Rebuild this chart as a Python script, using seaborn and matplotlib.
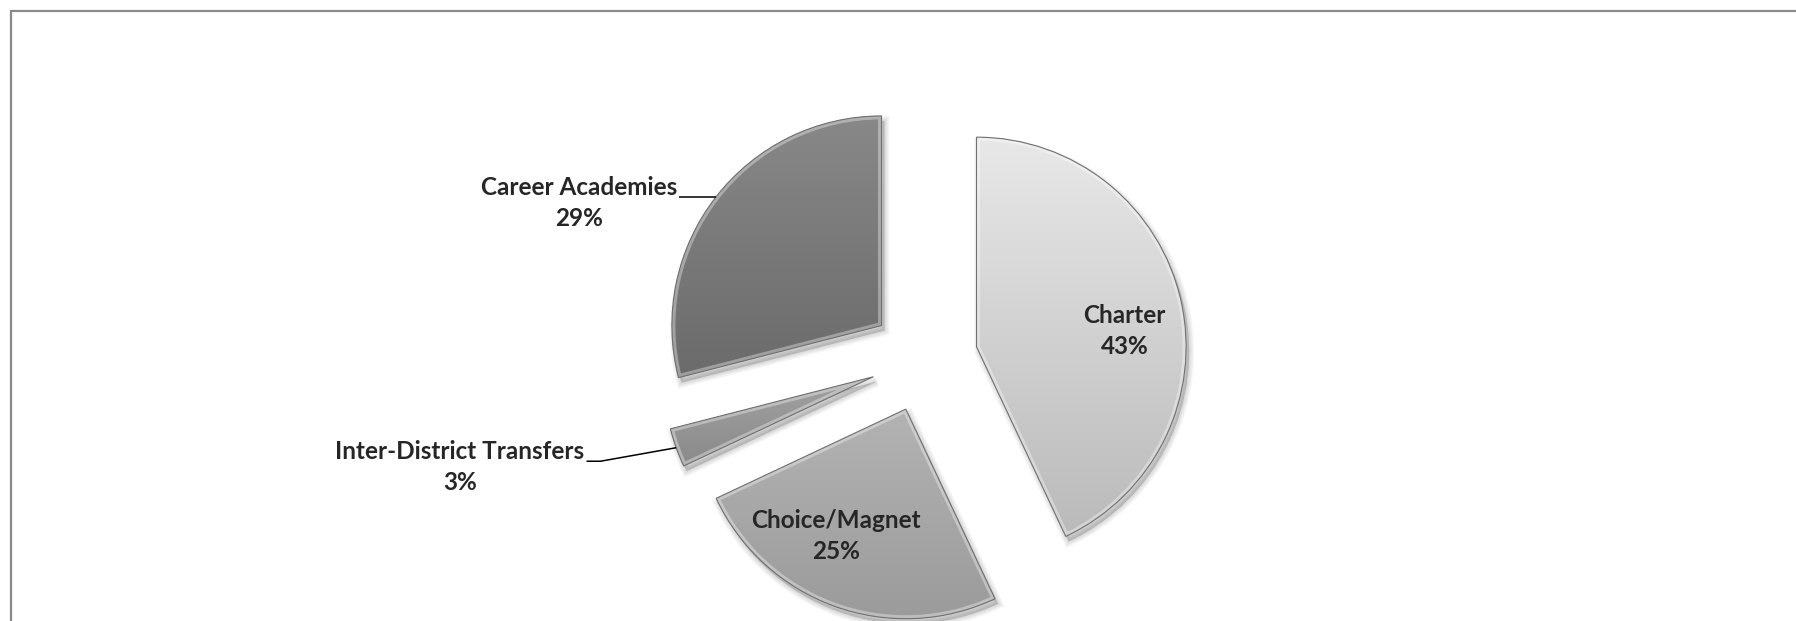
import numpy as np
import matplotlib
matplotlib.use('Agg')
import matplotlib.pyplot as plt
import seaborn as sns
from matplotlib.patches import Wedge, Rectangle
from matplotlib.colors import LinearSegmentedColormap

categories = ['Charter', 'Choice/Magnet', 'Inter-District Transfers', 'Career Academies']
shares = [43, 25, 3, 29]
pct_labels = ['43%', '25%', '3%', '29%']

# gradient colours of each slice (top, bottom)
tops = ['#e8e8e8', '#b3b3b3', '#a2a2a2', '#888888']
bottoms = ['#bababa', '#9b9b9b', '#8a8a8a', '#6b6b6b']

sns.set_style('white')
plt.rcParams['font.family'] = ['Lato', 'DejaVu Sans']

W, H = 1796, 621
fig = plt.figure(figsize=(W / 100, H / 100), dpi=100)
ax = fig.add_axes([0, 0, 1, 1])

cx, cy = 924, H - 358.5
R = 209.6
# explode is given in data units here (pixels)
wedges, _ = ax.pie(shares, startangle=90, counterclock=False, explode=[53.8] * 4,
                   radius=R, center=(cx, cy),
                   wedgeprops=dict(linewidth=0, zorder=2))

for w, top, bot in zip(wedges, tops, bottoms):
    (x0, y0), t1, t2 = w.center, w.theta1, w.theta2
    # soft shadow
    for k in range(5):
        ax.add_patch(Wedge((x0 + 3, y0 - 5), R, t1, t2, fc=(0, 0, 0, 0.035),
                           ec=(0, 0, 0, 0.03), lw=1 + 1.6 * k, zorder=1))
    w.set_facecolor(bot)
    ext = w.get_path().get_extents()
    grad = np.linspace(0, 1, 256).reshape(-1, 1)
    cmap = LinearSegmentedColormap.from_list('g', [bot, top])
    im = ax.imshow(grad, cmap=cmap, extent=[ext.x0, ext.x1, ext.y0, ext.y1],
                   origin='lower', aspect='auto', zorder=3, interpolation='bicubic')
    im.set_clip_path(w)
    # bevel highlight + outline
    hl = Wedge((x0, y0), R, t1, t2, fc='none', ec=(1, 1, 1, 0.35), lw=5, zorder=4)
    ax.add_patch(hl)
    hl.set_clip_path(w)
    ax.add_patch(Wedge((x0, y0), R, t1, t2, fc='none', ec='#707070', lw=0.8, zorder=5))

# labels
fs = 17.5
inside = {0: (0.71, -6.5), 1: (0.69, -9.0)}
outside = {2: (-91.6, -19.5), 3: (-39.0, -6.0)}
for i, w in enumerate(wedges):
    (x0, y0), t1, t2 = w.center, w.theta1, w.theta2
    mid = np.deg2rad((t1 + t2) / 2)
    txt = f'{categories[i]}\n{pct_labels[i]}'
    if i in inside:
        d, off = inside[i]
        a = mid + np.deg2rad(off)
        ax.text(x0 + d * R * np.cos(a), y0 + d * R * np.sin(a), txt, ha='center', va='center',
                multialignment='center', fontsize=fs, fontweight='bold', linespacing=1.45, zorder=6)
    else:
        ex, ey = x0 + R * np.cos(mid), y0 + R * np.sin(mid)
        dx, dy = outside[i]
        tx, ty = ex + dx, ey + dy
        ax.text(tx, ty, txt, ha='right', va='center', multialignment='center',
                fontsize=fs, fontweight='bold', linespacing=1.45, zorder=6)
        ly = ty + 6
        ax.plot([tx + 2, tx + 16, ex], [ly, ly, ey], color='black', lw=1.1, zorder=6,
                solid_capstyle='butt')

ax.set_xlim(0, W)
ax.set_ylim(0, H)
ax.set_aspect('auto')
ax.axis('off')

# chart-area border
ax.add_patch(Rectangle((10.5, -20), W + 20, H - 10.5 + 20, fc='none', ec='#898989',
                       lw=1.6, clip_on=False, zorder=0))

fig.savefig('out.png', dpi=100)
